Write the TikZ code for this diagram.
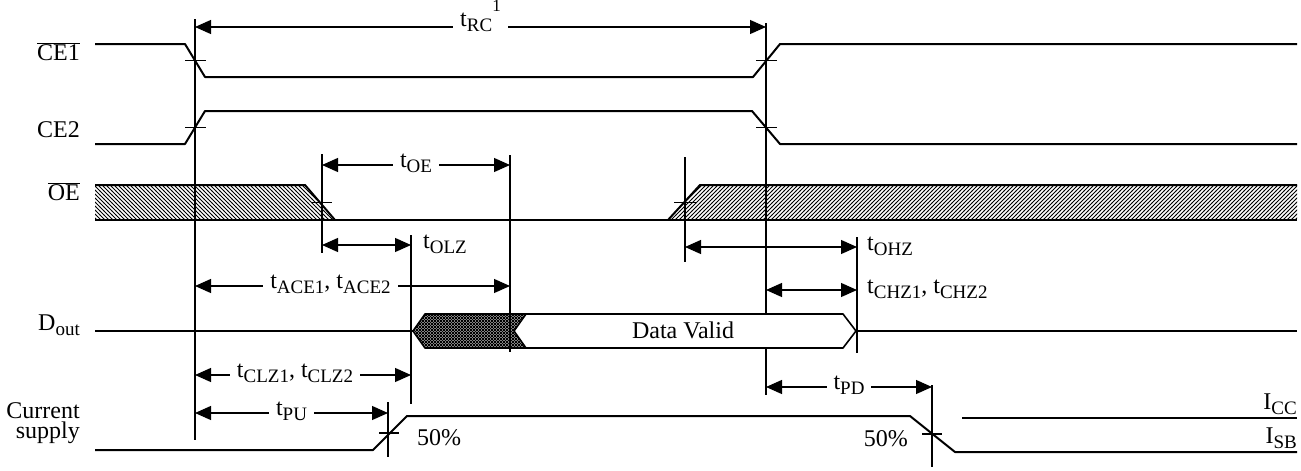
\documentclass[tikz,border=0pt]{standalone}
\usepackage{fontspec}
\setmainfont{Liberation Serif}
\usetikzlibrary{arrows.meta,patterns}

\pgfdeclarepatternformonly{nehatch}{\pgfqpoint{-1pt}{-1pt}}{\pgfqpoint{5pt}{5pt}}{\pgfqpoint{4pt}{4pt}}{%
  \pgfsetlinewidth{0.8pt}\pgfpathmoveto{\pgfqpoint{-0.05pt}{-0.05pt}}\pgfpathlineto{\pgfqpoint{4.05pt}{4.05pt}}\pgfusepath{stroke}}
\pgfdeclarepatternformonly{nwhatch}{\pgfqpoint{-1pt}{-1pt}}{\pgfqpoint{5pt}{5pt}}{\pgfqpoint{4pt}{4pt}}{%
  \pgfsetlinewidth{0.8pt}\pgfpathmoveto{\pgfqpoint{-0.05pt}{4.05pt}}\pgfpathlineto{\pgfqpoint{4.05pt}{-0.05pt}}\pgfusepath{stroke}}
\pgfdeclarepatternformonly{xhatch}{\pgfqpoint{-1pt}{-1pt}}{\pgfqpoint{4pt}{4pt}}{\pgfqpoint{3pt}{3pt}}{%
  \pgfsetlinewidth{0.8pt}\pgfpathmoveto{\pgfqpoint{-0.05pt}{-0.05pt}}\pgfpathlineto{\pgfqpoint{3.05pt}{3.05pt}}%
  \pgfpathmoveto{\pgfqpoint{-0.05pt}{3.05pt}}\pgfpathlineto{\pgfqpoint{3.05pt}{-0.05pt}}\pgfusepath{stroke}}

\newcommand{\lowsub}[1]{\raisebox{-5pt}{\fontsize{19}{19}\selectfont #1}}
\newcommand{\tsg}[1]{t\lowsub{#1}}

\begin{document}
\begin{tikzpicture}[x=1pt,y=-1pt,
  sig/.style={line width=2pt,line join=round},
  bus/.style={line width=1.6pt,line join=round},
  guide/.style={line width=1.2pt},
  tick/.style={line width=1.2pt},
  dim/.style={line width=1.2pt,>={Triangle[length=16pt,width=14pt]},<->},
  lbl/.style={font=\fontsize{24}{16}\selectfont,inner sep=0pt},
  dimlbl/.style={lbl,fill=white,inner xsep=7pt,inner ysep=1pt,anchor=base,yshift=-2pt},
  sidelbl/.style={lbl,anchor=base west},
  siglbl/.style={lbl,anchor=base east}]
\useasboundingbox (0,0) rectangle (1301,471);

% ---------- guide lines ----------
\coordinate (g1t) at (195,19);  \coordinate (g1b) at (195,440);
\coordinate (g2t) at (766,23);  \coordinate (g2b) at (766,395);
\coordinate (g3t) at (322,154); \coordinate (g3b) at (322,253);
\coordinate (g4t) at (510,155); \coordinate (g4b) at (510,352);
\coordinate (g5t) at (411,235); \coordinate (g5b) at (411,404);
\coordinate (g6t) at (685,157); \coordinate (g6b) at (685,262);
\coordinate (g7t) at (857,237); \coordinate (g7b) at (857,353);
\coordinate (g8t) at (388,402); \coordinate (g8b) at (388,457);
\coordinate (g9t) at (932,385); \coordinate (g9b) at (932,467);
\foreach \g in {1,...,9} {\draw[guide] (g\g t) -- (g\g b);}

% ---------- signal labels ----------
\node[siglbl] (lce1) at (80,60) {$\overline{\mbox{CE1}}$};
\node[siglbl] (lce2) at (80,137) {CE2};
\node[siglbl] (loe) at (80,200) {$\overline{\mbox{OE}}$};
\node[siglbl] (ldout) at (80,330) {D\lowsub{out}};
\node[siglbl,align=right,font=\fontsize{24}{20}\selectfont] (lcur) at (80,438) {Current\\supply};

% ---------- CE1 ----------
\draw[sig] (95,44) -- (185,44) -- (205,77) -- (753,77) -- (780,44) -- (1297,44);
\draw[tick] (185,60.5) -- (206,60.5);
\draw[tick] (756,60.5) -- (777,60.5);

% ---------- CE2 ----------
\draw[sig] (95,144) -- (185,144) -- (205,111) -- (752,111) -- (780,144) -- (1297,144);
\draw[tick] (185,127.5) -- (206,127.5);
\draw[tick] (756,127.5) -- (777,127.5);

% ---------- OE ----------
\fill[pattern=nwhatch] (95,185) -- (305,185) -- (335,220) -- (95,220) -- cycle;
\draw[sig] (95,185) -- (305,185) -- (335,220);
\fill[pattern=nehatch] (668,220) -- (700,185) -- (1297,185) -- (1297,220) -- cycle;
\draw[sig] (668,220) -- (700,185) -- (1297,185);
\draw[sig] (95,220) -- (1297,220);
\draw[tick] (312,202.5) -- (332,202.5);
\draw[tick] (674,202.5) -- (696,202.5);

% ---------- Dout ----------
\draw[sig] (95,331) -- (413,331);
\fill[pattern=xhatch] (413,331) -- (425,314) -- (526,314) -- (514,331) -- (526,348) -- (425,348) -- cycle;
\draw[bus] (526,314) -- (425,314) -- (413,331) -- (425,348) -- (526,348);
\draw[bus,fill=white] (514,331) -- (526,314) -- (843,314) -- (856,331) -- (843,348) -- (526,348) -- cycle;
\node[lbl,anchor=base] (dv) at (683,338) {Data Valid};
\draw[sig] (856,331) -- (1297,331);

% ---------- Current supply ----------
\draw[sig] (95,450) -- (373,450) -- (407,416) -- (910,416) -- (955,452) -- (1297,452);
\draw[sig] (962,418) -- (1297,418);
\draw[tick] (379,433) -- (399,433);
\draw[tick] (922,434) -- (942,434);
\node[lbl,anchor=base west] (p50a) at (417,445) {50\%};
\node[lbl,anchor=base east] (p50b) at (908,446) {50\%};
\node[siglbl] (icc) at (1297,409) {I\lowsub{CC}};
\node[siglbl] (isb) at (1297,443) {I\lowsub{SB}};

% ---------- timing arrows ----------
\coordinate (rcL) at (195,27);  \coordinate (rcR) at (766,27);
\draw[dim] (rcL) -- node[dimlbl,yshift=2pt] (trc) {\tsg{RC}\raisebox{15pt}{\fontsize{17}{17}\selectfont 1}} (rcR);

\coordinate (oeL) at (322,165); \coordinate (oeR) at (510,165);
\draw[dim] (oeL) -- node[dimlbl] (toe) {\tsg{OE}} (oeR);

\coordinate (olzL) at (322,245); \coordinate (olzR) at (411,245);
\draw[dim] (olzL) -- (olzR);
\node[sidelbl] (tolz) at (423,248) {\tsg{OLZ}};

\coordinate (aceL) at (195,286); \coordinate (aceR) at (510,286);
\draw[dim] (aceL) -- node[dimlbl,pos=0.43] (tace) {\tsg{ACE1}, \tsg{ACE2}} (aceR);

\coordinate (ohzL) at (685,247); \coordinate (ohzR) at (857,247);
\draw[dim] (ohzL) -- (ohzR);
\node[sidelbl] (tohz) at (867,250) {\tsg{OHZ}};

\coordinate (chzL) at (766,290); \coordinate (chzR) at (857,290);
\draw[dim] (chzL) -- (chzR);
\node[sidelbl] (tchz) at (867,293) {\tsg{CHZ1}, \tsg{CHZ2}};

\coordinate (clzL) at (195,375); \coordinate (clzR) at (411,375);
\draw[dim] (clzL) -- node[dimlbl,pos=0.463] (tclz) {\tsg{CLZ1}, \tsg{CLZ2}} (clzR);

\coordinate (puL) at (195,413); \coordinate (puR) at (388,413);
\draw[dim] (puL) -- node[dimlbl] (tpu) {\tsg{PU}} (puR);

\coordinate (pdL) at (766,387); \coordinate (pdR) at (932,387);
\draw[dim] (pdL) -- node[dimlbl] (tpd) {\tsg{PD}} (pdR);
\end{tikzpicture}
\end{document}
